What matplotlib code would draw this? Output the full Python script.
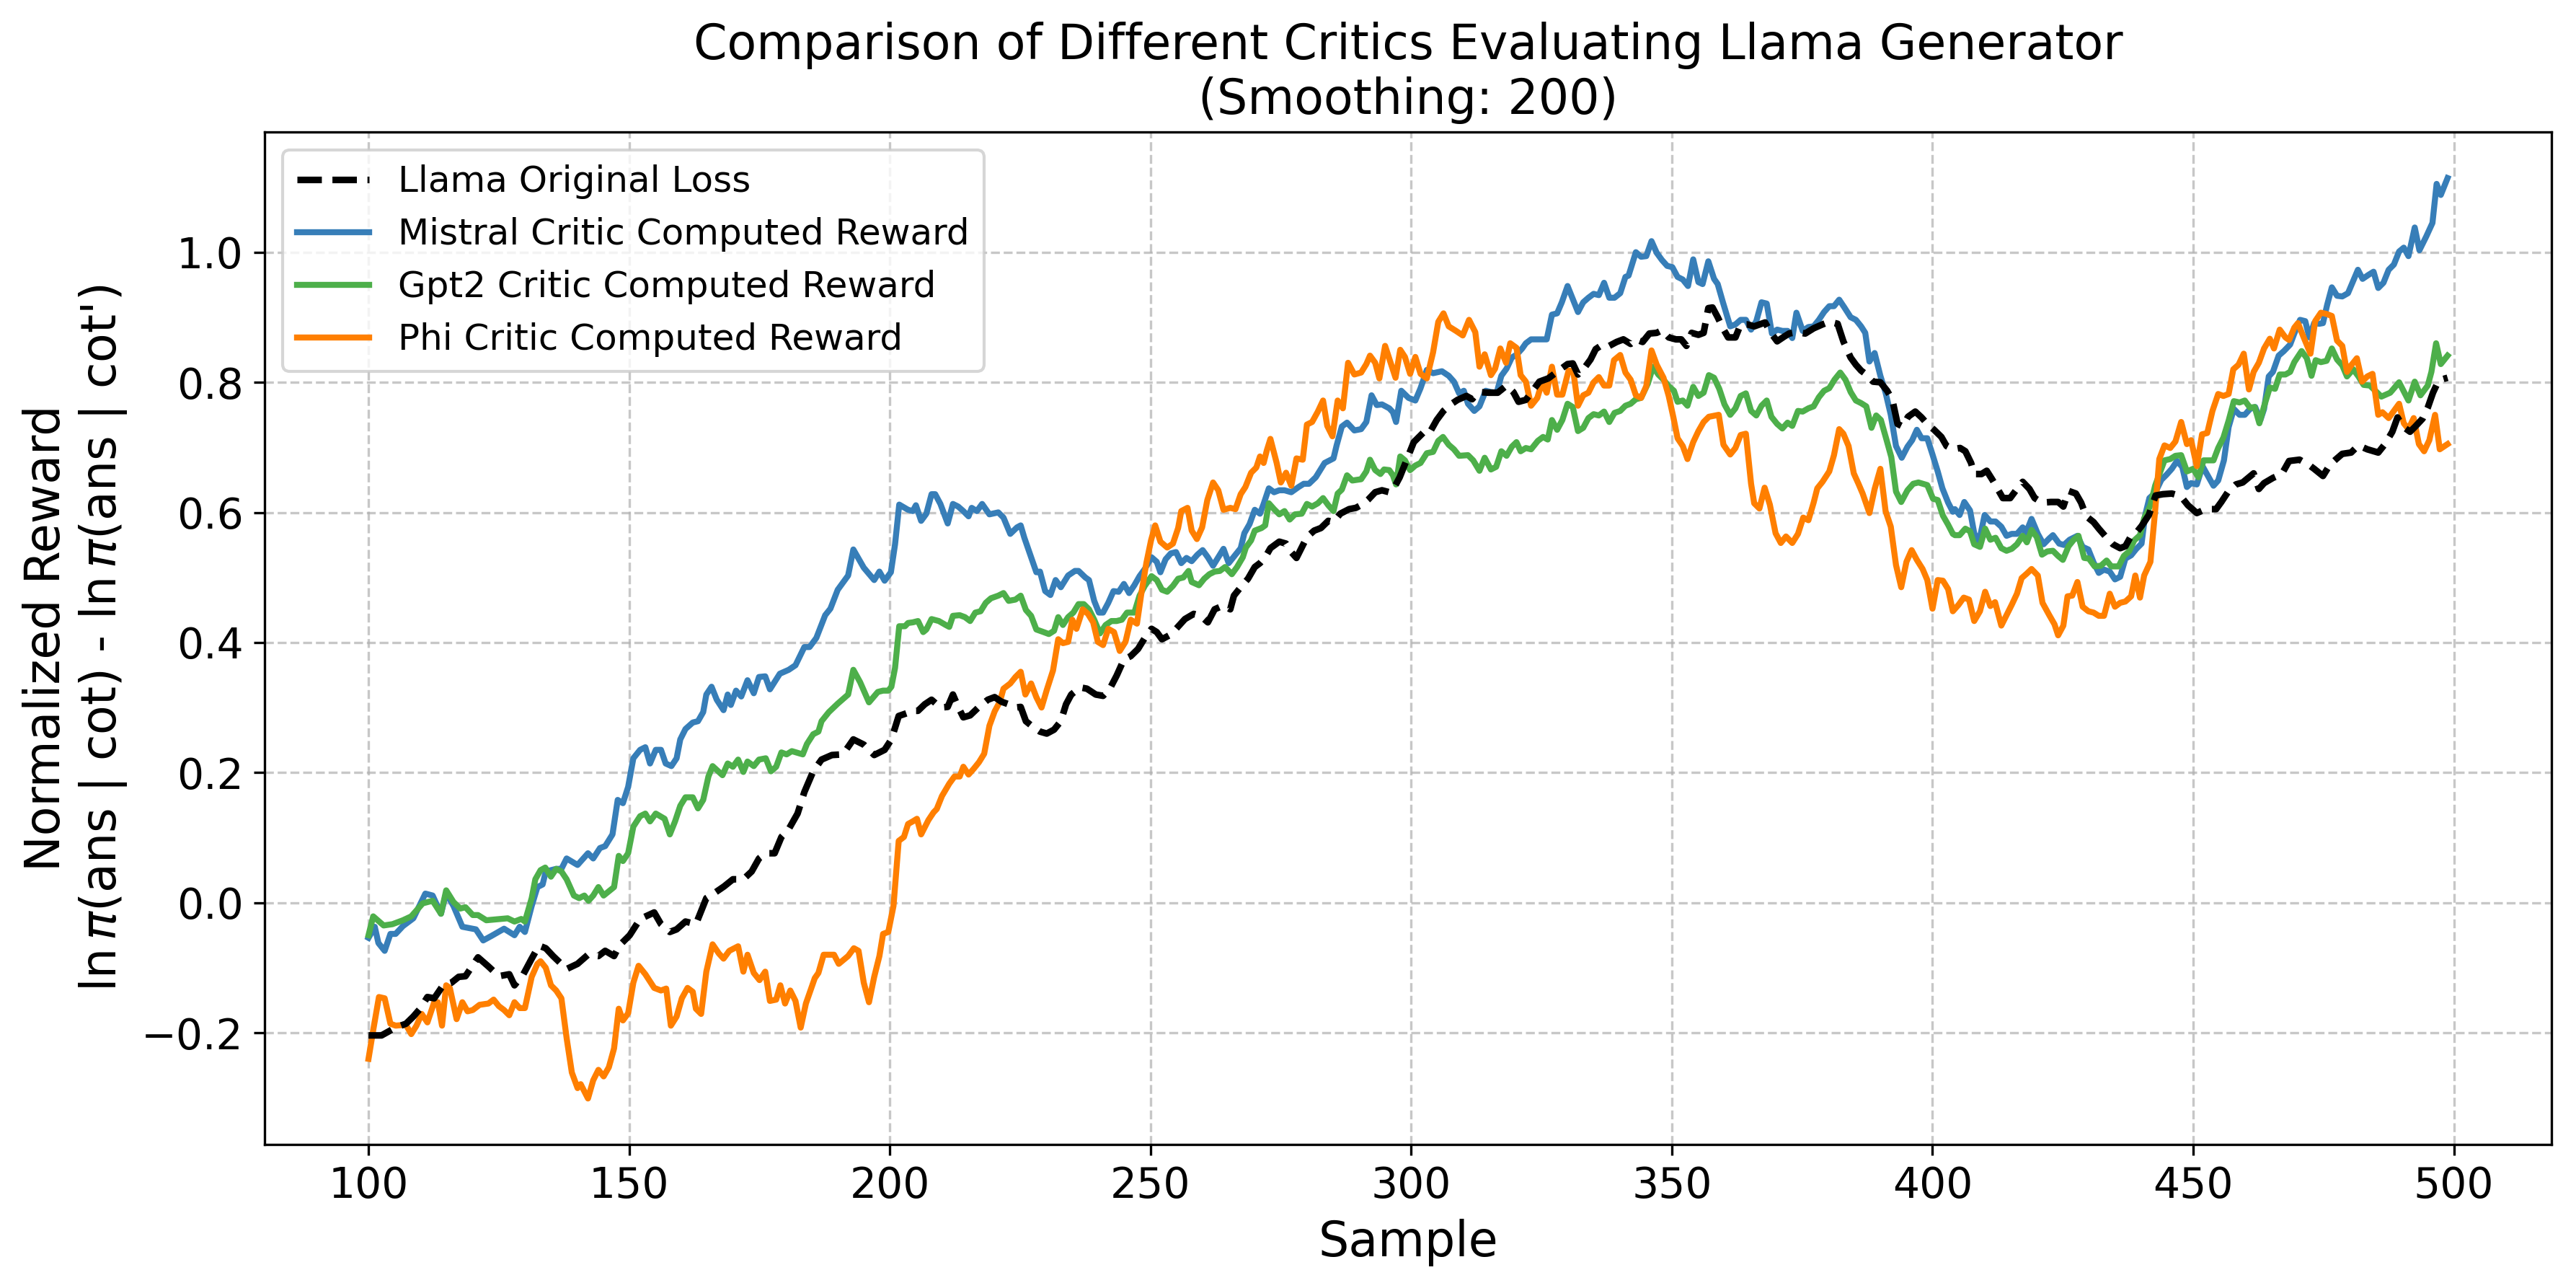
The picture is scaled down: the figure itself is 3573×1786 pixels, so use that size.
import numpy as np
import matplotlib.pyplot as plt

# valores (muestra, recompensa normalizada)
llama_x = [100.0, 102.5, 105.2, 107.2, 108.6, 109.9, 111.3, 112.6, 114.3, 115.9, 117.3, 118.6, 121.0, 123.0, 125.0,
           127.0, 128.0, 129.7, 131.3, 132.7, 134.0, 135.4, 138.0, 140.1, 142.1, 144.1, 145.4, 147.1, 148.1, 150.1,
           152.1, 154.8, 156.1, 157.8, 159.1, 160.8, 162.8, 164.8, 166.2, 168.2, 169.9, 171.9, 173.5, 174.9, 176.2,
           177.9, 179.2, 180.6, 182.3, 183.6, 185.3, 186.9, 188.9, 191.0, 193.0, 195.0, 197.0, 199.0, 200.3, 201.7,
           203.5, 204.0, 205.4, 206.7, 208.0, 209.7, 211.1, 212.1, 213.1, 214.1, 215.4, 217.1, 218.8, 220.1, 221.4,
           222.8, 224.1, 225.1, 226.1, 227.5, 228.8, 230.1, 231.5, 232.8, 233.8, 234.8, 236.5, 237.8, 239.5, 240.9,
           242.2, 243.5, 244.9, 246.2, 247.6, 248.9, 250.2, 251.2, 252.2, 253.6, 254.9, 256.6, 258.3, 259.6, 261.0,
           262.3, 264.0, 265.3, 266.0, 267.3, 268.7, 270.0, 271.0, 272.0, 273.0, 274.7, 276.0, 277.0, 278.0, 279.0,
           280.0, 281.4, 282.7, 284.1, 285.1, 286.4, 288.1, 289.4, 290.8, 291.8, 293.1, 294.4, 295.8, 296.8, 297.8,
           299.1, 300.5, 302.5, 303.5, 304.9, 306.2, 307.6, 308.9, 310.6, 311.7, 312.9, 314.9, 316.6, 318.3, 319.6,
           320.6, 322.0, 323.3, 324.6, 326.3, 328.3, 330.0, 331.0, 332.0, 333.4, 334.4, 335.4, 336.7, 338.0, 339.4,
           340.7, 342.1, 343.1, 344.4, 345.7, 347.1, 348.1, 349.4, 350.8, 351.8, 352.8, 353.8, 355.1, 356.1, 357.0,
           357.8, 358.8, 359.8, 360.8, 362.2, 363.2, 364.5, 365.8, 367.9, 368.9, 370.2, 371.5, 372.5, 373.9, 375.6,
           377.2, 378.9, 380.2, 381.8, 382.9, 384.3, 385.3, 386.3, 387.3, 388.6, 390.0, 391.3, 392.3, 393.3, 394.3,
           395.3, 396.7, 397.9, 399.0, 400.3, 401.7, 402.7, 403.9, 405.3, 406.3, 407.4, 408.0, 409.4, 410.4, 411.5,
           412.5, 413.5, 414.9, 416.2, 417.3, 418.6, 419.6, 421.0, 422.7, 424.1, 425.1, 426.1, 427.5, 428.5, 429.5,
           430.9, 431.9, 433.3, 434.6, 436.0, 437.0, 438.1, 439.1, 440.1, 441.5, 442.8, 444.2, 445.9, 447.6, 449.0,
           450.7, 452.4, 454.4, 455.4, 456.8, 458.2, 459.5, 461.6, 462.6, 463.6, 465.3, 467.0, 468.4, 470.4, 472.2,
           473.2, 474.9, 476.2, 477.3, 478.6, 480.3, 481.7, 483.4, 485.5, 486.8, 488.2, 489.2, 490.2, 491.6, 492.6,
           494.0, 495.0, 496.0, 497.1, 498.8]
llama_y = [-0.204, -0.204, -0.192, -0.186, -0.175, -0.163, -0.145, -0.147, -0.127, -0.123, -0.114, -0.113, -0.084,
           -0.098, -0.113, -0.110, -0.127, -0.110, -0.086, -0.066, -0.070, -0.082, -0.102, -0.094, -0.080, -0.082,
           -0.074, -0.082, -0.066, -0.050, -0.025, -0.015, -0.033, -0.045, -0.041, -0.029, -0.033, 0.007, 0.014,
           0.025, 0.036, 0.036, 0.048, 0.068, 0.076, 0.076, 0.101, 0.113, 0.137, 0.170, 0.202, 0.220, 0.227, 0.228,
           0.251, 0.243, 0.227, 0.235, 0.251, 0.287, 0.292, 0.295, 0.295, 0.305, 0.312, 0.300, 0.301, 0.320, 0.301,
           0.285, 0.288, 0.301, 0.312, 0.316, 0.309, 0.305, 0.300, 0.301, 0.279, 0.270, 0.263, 0.260, 0.266, 0.279,
           0.305, 0.320, 0.331, 0.329, 0.320, 0.318, 0.329, 0.349, 0.374, 0.379, 0.390, 0.407, 0.421, 0.416, 0.405,
           0.411, 0.421, 0.436, 0.444, 0.441, 0.431, 0.451, 0.457, 0.451, 0.472, 0.485, 0.498, 0.516, 0.522, 0.531,
           0.545, 0.555, 0.552, 0.539, 0.530, 0.546, 0.562, 0.572, 0.576, 0.587, 0.585, 0.598, 0.605, 0.607, 0.613,
           0.620, 0.631, 0.634, 0.631, 0.639, 0.654, 0.680, 0.708, 0.724, 0.722, 0.742, 0.756, 0.766, 0.773, 0.779,
           0.774, 0.785, 0.784, 0.784, 0.795, 0.785, 0.770, 0.773, 0.787, 0.801, 0.806, 0.818, 0.828, 0.829, 0.812,
           0.824, 0.835, 0.851, 0.858, 0.856, 0.862, 0.866, 0.859, 0.866, 0.862, 0.875, 0.876, 0.880, 0.869, 0.866,
           0.866, 0.856, 0.876, 0.873, 0.876, 0.914, 0.915, 0.900, 0.883, 0.869, 0.869, 0.889, 0.889, 0.886, 0.892,
           0.877, 0.863, 0.870, 0.875, 0.877, 0.875, 0.883, 0.889, 0.893, 0.890, 0.863, 0.838, 0.827, 0.818, 0.812,
           0.801, 0.800, 0.787, 0.773, 0.736, 0.732, 0.747, 0.755, 0.746, 0.736, 0.727, 0.716, 0.702, 0.697, 0.699,
           0.694, 0.676, 0.659, 0.659, 0.664, 0.650, 0.636, 0.622, 0.622, 0.636, 0.647, 0.636, 0.622, 0.615, 0.616,
           0.616, 0.609, 0.633, 0.629, 0.615, 0.594, 0.585, 0.575, 0.562, 0.551, 0.545, 0.548, 0.564, 0.569, 0.579,
           0.596, 0.626, 0.628, 0.629, 0.625, 0.611, 0.599, 0.605, 0.605, 0.616, 0.633, 0.643, 0.646, 0.660, 0.636,
           0.645, 0.653, 0.659, 0.679, 0.681, 0.673, 0.667, 0.656, 0.673, 0.681, 0.690, 0.692, 0.703, 0.697, 0.692,
           0.705, 0.724, 0.746, 0.732, 0.724, 0.732, 0.744, 0.761, 0.784, 0.803, 0.807]

mistral_x = [100.0, 101.2, 101.9, 103.1, 104.2, 105.2, 106.6, 108.6, 110.9, 112.3, 113.9, 114.9, 116.3, 118.0, 120.6,
             122.0, 123.6, 126.0, 128.0, 129.0, 130.0, 131.3, 132.4, 133.4, 134.0, 135.0, 136.0, 137.0, 138.0, 140.1,
             142.1, 143.1, 144.4, 145.4, 146.8, 147.8, 148.8, 149.8, 150.8, 152.1, 153.1, 154.0, 155.1, 156.1, 157.0,
             158.1, 159.1, 159.8, 160.8, 162.2, 163.2, 164.2, 164.8, 165.8, 166.8, 168.1, 168.9, 169.5, 170.5, 171.5,
             172.7, 173.9, 174.9, 176.1, 177.0, 178.9, 180.6, 181.9, 183.6, 184.6, 185.9, 187.6, 188.6, 190.0, 192.0,
             193.0, 195.0, 197.0, 198.0, 199.0, 200.2, 201.0, 201.8, 203.5, 204.4, 205.0, 206.0, 207.0, 208.0, 208.7,
             209.7, 211.1, 212.1, 213.1, 214.1, 215.1, 215.7, 216.7, 217.7, 219.1, 220.8, 221.8, 223.1, 224.4, 225.1,
             225.8, 227.1, 228.1, 228.8, 229.8, 230.8, 231.8, 232.8, 234.2, 235.5, 236.2, 237.5, 238.2, 239.2, 240.1,
             240.9, 241.9, 242.9, 243.9, 244.9, 245.9, 246.9, 247.9, 248.9, 250.2, 251.2, 251.9, 252.9, 253.9, 254.9,
             255.9, 256.9, 257.9, 259.0, 260.0, 261.0, 262.0, 263.0, 264.0, 265.0, 266.3, 267.3, 268.0, 269.0, 270.0,
             271.0, 271.7, 272.7, 273.7, 274.7, 275.7, 277.0, 278.4, 279.4, 280.4, 281.7, 283.4, 285.1, 285.7, 286.7,
             287.7, 289.1, 290.4, 291.4, 292.4, 293.4, 294.4, 295.8, 296.5, 297.1, 298.1, 299.5, 300.8, 301.8, 303.0,
             304.2, 305.9, 307.2, 308.2, 309.2, 310.1, 310.9, 312.1, 313.1, 314.3, 315.3, 316.4, 317.3, 318.3, 319.3,
             320.3, 321.3, 322.0, 323.0, 324.3, 326.0, 327.0, 328.0, 328.9, 330.0, 331.0, 332.0, 333.0, 334.0, 335.0,
             336.0, 337.0, 338.0, 339.0, 340.1, 341.1, 341.7, 343.1, 344.1, 345.1, 346.1, 347.1, 348.1, 349.1, 350.1,
             351.1, 352.1, 353.1, 354.1, 355.1, 355.9, 357.0, 358.1, 358.8, 359.8, 361.2, 362.2, 363.2, 364.2, 365.2,
             366.2, 367.2, 368.2, 369.2, 370.2, 371.2, 372.2, 373.1, 373.9, 375.1, 376.2, 377.2, 378.2, 379.2, 380.2,
             381.1, 382.1, 383.1, 384.3, 385.3, 386.3, 387.1, 387.9, 388.9, 390.0, 391.0, 392.0, 393.0, 394.1, 395.2,
             396.1, 397.0, 397.9, 399.0, 400.0, 401.0, 401.9, 403.0, 403.9, 404.3, 405.2, 406.1, 407.2, 408.0, 408.9,
             410.0, 411.1, 412.1, 413.2, 414.2, 415.2, 416.2, 417.3, 417.9, 419.0, 420.2, 421.3, 422.4, 423.1, 424.3,
             425.2, 426.3, 427.8, 428.8, 429.9, 430.9, 431.9, 432.9, 434.0, 435.0, 436.0, 437.0, 438.1, 439.1, 440.1,
             440.8, 441.6, 442.7, 443.9, 444.9, 445.9, 446.9, 447.9, 448.8, 449.6, 450.7, 451.8, 452.7, 453.9, 454.8,
             455.9, 456.8, 457.8, 458.9, 459.9, 460.9, 461.9, 462.9, 463.6, 464.5, 465.3, 466.4, 467.4, 468.6, 469.4,
             470.5, 471.5, 472.3, 473.2, 474.2, 474.9, 475.7, 476.6, 477.6, 478.6, 479.7, 480.7, 481.6, 482.5, 483.6,
             484.6, 485.5, 486.5, 487.5, 488.5, 489.5, 490.4, 491.3, 492.5, 493.4, 494.7, 495.9, 496.7, 497.5, 498.8]
mistral_y = [-0.054, -0.037, -0.062, -0.074, -0.048, -0.048, -0.036, -0.024, 0.014, 0.011, -0.017, 0.015, -0.005,
             -0.037, -0.041, -0.058, -0.051, -0.040, -0.050, -0.037, -0.045, -0.005, 0.024, 0.028, 0.048, 0.050,
             0.052, 0.052, 0.068, 0.058, 0.076, 0.068, 0.084, 0.087, 0.105, 0.158, 0.153, 0.178, 0.222, 0.235, 0.239,
             0.214, 0.235, 0.235, 0.214, 0.210, 0.222, 0.251, 0.267, 0.277, 0.279, 0.293, 0.320, 0.332, 0.312, 0.296,
             0.320, 0.304, 0.326, 0.317, 0.342, 0.322, 0.347, 0.348, 0.328, 0.352, 0.358, 0.365, 0.393, 0.393, 0.407,
             0.442, 0.452, 0.481, 0.503, 0.543, 0.515, 0.496, 0.509, 0.495, 0.508, 0.551, 0.612, 0.604, 0.602, 0.611,
             0.587, 0.598, 0.628, 0.628, 0.613, 0.583, 0.613, 0.609, 0.602, 0.594, 0.607, 0.602, 0.613, 0.597, 0.600,
             0.592, 0.567, 0.577, 0.580, 0.561, 0.531, 0.508, 0.509, 0.479, 0.473, 0.496, 0.485, 0.503, 0.510, 0.510,
             0.500, 0.496, 0.464, 0.446, 0.446, 0.461, 0.479, 0.478, 0.490, 0.476, 0.488, 0.502, 0.513, 0.531, 0.524,
             0.508, 0.528, 0.537, 0.539, 0.522, 0.530, 0.525, 0.535, 0.542, 0.531, 0.518, 0.531, 0.544, 0.522, 0.535,
             0.545, 0.568, 0.582, 0.604, 0.598, 0.613, 0.637, 0.631, 0.634, 0.634, 0.631, 0.639, 0.644, 0.644, 0.654,
             0.676, 0.683, 0.703, 0.732, 0.738, 0.726, 0.728, 0.739, 0.780, 0.765, 0.766, 0.760, 0.754, 0.739, 0.787,
             0.776, 0.772, 0.791, 0.819, 0.814, 0.817, 0.810, 0.801, 0.783, 0.787, 0.767, 0.756, 0.763, 0.787, 0.785,
             0.784, 0.810, 0.821, 0.838, 0.843, 0.852, 0.860, 0.866, 0.866, 0.866, 0.904, 0.906, 0.923, 0.948, 0.928,
             0.908, 0.923, 0.930, 0.936, 0.934, 0.953, 0.930, 0.930, 0.937, 0.962, 0.964, 1.000, 0.993, 0.994, 1.017,
             0.999, 0.988, 0.979, 0.977, 0.962, 0.958, 0.948, 0.989, 0.954, 0.951, 0.986, 0.959, 0.951, 0.923, 0.886,
             0.889, 0.896, 0.896, 0.881, 0.894, 0.923, 0.921, 0.875, 0.881, 0.879, 0.879, 0.868, 0.907, 0.879, 0.885,
             0.886, 0.896, 0.908, 0.917, 0.917, 0.927, 0.915, 0.900, 0.896, 0.886, 0.876, 0.832, 0.845, 0.810, 0.784,
             0.750, 0.702, 0.684, 0.701, 0.711, 0.727, 0.714, 0.714, 0.689, 0.663, 0.637, 0.615, 0.601, 0.605, 0.596,
             0.616, 0.603, 0.568, 0.554, 0.596, 0.586, 0.586, 0.578, 0.564, 0.567, 0.567, 0.577, 0.568, 0.590, 0.567,
             0.551, 0.560, 0.565, 0.552, 0.550, 0.558, 0.564, 0.547, 0.543, 0.523, 0.507, 0.512, 0.509, 0.497, 0.501,
             0.529, 0.534, 0.544, 0.552, 0.596, 0.622, 0.630, 0.650, 0.658, 0.667, 0.679, 0.670, 0.639, 0.645, 0.643,
             0.671, 0.658, 0.641, 0.649, 0.680, 0.731, 0.759, 0.750, 0.750, 0.759, 0.762, 0.742, 0.759, 0.809, 0.816,
             0.841, 0.848, 0.858, 0.875, 0.896, 0.894, 0.869, 0.891, 0.890, 0.891, 0.919, 0.946, 0.933, 0.932, 0.937,
             0.956, 0.973, 0.959, 0.965, 0.970, 0.945, 0.953, 0.973, 0.981, 1.001, 1.007, 0.994, 1.038, 1.003, 1.024,
             1.045, 1.105, 1.088, 1.114]

gpt2_x = [100.0, 100.9, 102.9, 104.6, 106.6, 108.2, 110.4, 112.3, 113.9, 114.9, 116.3, 117.6, 118.6, 120.0, 121.0,
          122.6, 125.3, 126.7, 128.0, 129.3, 130.0, 131.3, 132.0, 133.0, 133.9, 135.0, 136.0, 137.0, 138.0, 139.4,
          140.4, 141.4, 142.2, 143.1, 144.1, 145.1, 147.1, 148.0, 148.8, 149.8, 150.8, 152.1, 153.1, 154.0, 155.1,
          156.8, 157.8, 158.8, 159.8, 160.8, 162.2, 163.2, 164.2, 165.2, 166.0, 167.9, 168.9, 169.9, 170.9, 171.9,
          172.7, 173.9, 174.9, 176.2, 177.2, 178.2, 179.2, 180.2, 181.2, 183.3, 184.1, 185.3, 186.3, 186.9, 188.3,
          190.0, 192.0, 193.0, 194.3, 196.0, 197.7, 198.7, 199.7, 200.3, 201.0, 201.8, 202.9, 203.5, 204.4, 205.4,
          206.4, 207.0, 208.0, 209.4, 210.7, 211.4, 212.1, 213.4, 214.4, 215.4, 216.4, 217.4, 218.4, 219.4, 220.8,
          221.8, 222.8, 224.1, 225.1, 226.1, 227.1, 228.1, 229.5, 230.5, 231.5, 232.3, 233.2, 234.2, 235.2, 236.2,
          237.2, 238.2, 239.2, 240.3, 241.4, 242.5, 243.5, 244.5, 245.5, 246.9, 247.9, 248.9, 250.2, 251.2, 252.2,
          253.2, 254.3, 255.3, 256.3, 257.3, 257.9, 259.3, 260.3, 261.3, 262.3, 263.3, 264.3, 265.6, 266.6, 267.7,
          268.3, 269.3, 270.0, 271.3, 272.0, 272.7, 273.7, 274.7, 275.7, 276.7, 277.7, 279.0, 280.0, 281.0, 282.1,
          283.1, 284.1, 285.1, 285.9, 286.7, 287.7, 288.7, 290.4, 291.4, 292.1, 293.1, 294.1, 294.8, 295.8, 296.5,
          297.1, 297.9, 298.8, 299.8, 300.8, 301.8, 303.0, 304.2, 305.2, 306.1, 307.2, 308.2, 309.2, 310.9, 311.9,
          313.1, 314.1, 315.3, 316.3, 317.3, 318.3, 319.3, 320.2, 321.0, 322.0, 323.0, 324.3, 325.3, 326.2, 327.0,
          328.0, 329.0, 330.0, 331.0, 332.0, 333.0, 334.0, 335.0, 336.0, 337.0, 338.0, 339.0, 340.1, 341.1, 342.1,
          343.1, 344.1, 345.4, 346.4, 347.4, 348.4, 349.4, 350.4, 351.1, 352.1, 353.0, 354.1, 355.1, 356.1, 357.1,
          358.1, 359.1, 360.1, 361.2, 362.2, 363.2, 364.2, 365.2, 366.2, 367.2, 368.2, 369.1, 370.2, 371.2, 372.2,
          373.1, 374.2, 375.1, 376.2, 377.2, 378.2, 379.2, 380.2, 381.2, 382.3, 383.3, 384.3, 385.3, 386.3, 387.3,
          388.3, 389.2, 390.1, 391.2, 392.1, 393.0, 394.0, 395.2, 396.3, 397.3, 399.0, 400.1, 401.0, 402.0, 403.0,
          403.9, 404.3, 405.2, 406.3, 407.2, 408.0, 409.1, 410.1, 411.1, 412.1, 413.2, 414.2, 415.2, 416.2, 417.3,
          418.1, 419.0, 420.0, 421.0, 422.0, 423.1, 424.1, 425.0, 426.1, 427.1, 428.0, 429.1, 430.0, 431.1, 432.3,
          433.4, 434.3, 435.7, 436.7, 437.7, 438.7, 439.8, 440.6, 441.8, 442.7, 443.9, 444.5, 445.6, 446.6, 447.7,
          448.8, 450.0, 451.0, 452.0, 453.9, 454.8, 455.8, 456.8, 457.8, 458.9, 459.9, 460.9, 461.8, 462.7, 463.6,
          464.7, 465.7, 466.6, 467.7, 468.6, 469.4, 470.8, 471.8, 472.7, 473.5, 474.5, 475.6, 476.6, 477.6, 478.6,
          479.5, 480.7, 481.7, 482.7, 483.9, 486.1, 487.8, 489.5, 491.3, 492.5, 493.6, 495.0, 495.7, 496.6, 497.5,
          498.8]
gpt2_y = [-0.050, -0.021, -0.035, -0.033, -0.027, -0.021, -0.001, 0.003, -0.017, 0.019, 0.001, -0.009, -0.007,
          -0.019, -0.019, -0.027, -0.025, -0.024, -0.029, -0.025, -0.029, 0.007, 0.036, 0.050, 0.054, 0.040, 0.052,
          0.048, 0.036, 0.011, 0.007, 0.011, 0.003, 0.011, 0.024, 0.011, 0.024, 0.072, 0.064, 0.076, 0.117, 0.133,
          0.137, 0.125, 0.137, 0.129, 0.105, 0.125, 0.149, 0.162, 0.162, 0.145, 0.158, 0.194, 0.210, 0.196, 0.214,
          0.209, 0.220, 0.201, 0.217, 0.210, 0.220, 0.222, 0.202, 0.209, 0.231, 0.228, 0.233, 0.228, 0.244, 0.259,
          0.263, 0.279, 0.293, 0.306, 0.320, 0.358, 0.339, 0.308, 0.324, 0.326, 0.326, 0.332, 0.361, 0.425, 0.425,
          0.430, 0.431, 0.433, 0.416, 0.420, 0.436, 0.433, 0.427, 0.424, 0.441, 0.442, 0.439, 0.433, 0.446, 0.448,
          0.461, 0.468, 0.472, 0.476, 0.464, 0.466, 0.472, 0.450, 0.441, 0.420, 0.416, 0.413, 0.418, 0.439, 0.427,
          0.439, 0.446, 0.459, 0.459, 0.451, 0.435, 0.414, 0.427, 0.433, 0.433, 0.435, 0.446, 0.446, 0.472, 0.487,
          0.502, 0.496, 0.481, 0.478, 0.487, 0.498, 0.500, 0.510, 0.493, 0.488, 0.498, 0.505, 0.509, 0.510, 0.516,
          0.505, 0.516, 0.531, 0.546, 0.557, 0.572, 0.576, 0.580, 0.614, 0.605, 0.597, 0.602, 0.589, 0.597, 0.598,
          0.613, 0.609, 0.614, 0.622, 0.611, 0.602, 0.629, 0.635, 0.657, 0.649, 0.651, 0.663, 0.681, 0.665, 0.659,
          0.666, 0.665, 0.657, 0.643, 0.686, 0.680, 0.665, 0.672, 0.676, 0.691, 0.693, 0.710, 0.716, 0.704, 0.697,
          0.687, 0.688, 0.680, 0.664, 0.684, 0.666, 0.670, 0.694, 0.687, 0.701, 0.708, 0.694, 0.699, 0.697, 0.710,
          0.716, 0.712, 0.742, 0.727, 0.742, 0.767, 0.762, 0.725, 0.730, 0.745, 0.751, 0.749, 0.755, 0.739, 0.753,
          0.756, 0.764, 0.767, 0.774, 0.776, 0.798, 0.824, 0.812, 0.804, 0.794, 0.787, 0.770, 0.772, 0.764, 0.793,
          0.779, 0.784, 0.811, 0.807, 0.790, 0.766, 0.750, 0.760, 0.779, 0.783, 0.756, 0.749, 0.764, 0.772, 0.747,
          0.736, 0.729, 0.738, 0.733, 0.756, 0.755, 0.760, 0.763, 0.777, 0.787, 0.791, 0.804, 0.815, 0.804, 0.785,
          0.772, 0.768, 0.763, 0.730, 0.749, 0.742, 0.711, 0.685, 0.632, 0.616, 0.634, 0.644, 0.646, 0.642, 0.621,
          0.619, 0.595, 0.581, 0.567, 0.565, 0.565, 0.575, 0.571, 0.551, 0.547, 0.575, 0.558, 0.561, 0.545, 0.541,
          0.544, 0.551, 0.564, 0.554, 0.573, 0.562, 0.535, 0.540, 0.541, 0.533, 0.527, 0.548, 0.558, 0.564, 0.530,
          0.529, 0.517, 0.518, 0.526, 0.517, 0.517, 0.533, 0.540, 0.557, 0.565, 0.591, 0.611, 0.641, 0.667, 0.680,
          0.682, 0.687, 0.688, 0.663, 0.667, 0.654, 0.680, 0.680, 0.699, 0.715, 0.741, 0.771, 0.769, 0.772, 0.761,
          0.762, 0.737, 0.763, 0.792, 0.790, 0.812, 0.812, 0.816, 0.831, 0.848, 0.837, 0.810, 0.834, 0.831, 0.833,
          0.852, 0.835, 0.826, 0.809, 0.820, 0.809, 0.796, 0.795, 0.778, 0.784, 0.800, 0.772, 0.801, 0.780, 0.795,
          0.816, 0.860, 0.828, 0.841]

phi_x = [100.0, 100.9, 102.0, 103.1, 104.2, 105.2, 106.6, 107.2, 108.2, 109.2, 110.2, 111.3, 112.6, 113.3, 114.1,
         114.9, 115.6, 116.9, 118.0, 119.0, 120.0, 121.3, 123.0, 124.0, 125.0, 126.0, 127.0, 128.0, 129.0, 130.0,
         131.3, 132.4, 133.0, 134.0, 135.0, 136.0, 137.0, 138.0, 139.0, 140.1, 140.7, 142.1, 143.1, 144.1, 145.1,
         146.1, 147.1, 148.0, 148.8, 149.8, 150.8, 151.8, 153.1, 154.8, 156.1, 157.1, 158.0, 159.1, 160.1, 161.2,
         162.2, 162.8, 163.8, 164.8, 166.0, 167.2, 168.1, 169.2, 170.9, 171.9, 172.7, 173.9, 175.0, 176.1, 177.0,
         178.2, 179.0, 179.9, 180.9, 181.9, 182.9, 183.9, 185.6, 186.3, 187.3, 188.3, 189.3, 190.2, 192.0, 193.1,
         194.0, 195.0, 196.0, 197.0, 198.0, 198.7, 199.7, 200.7, 201.7, 202.7, 203.5, 204.4, 205.2, 206.0, 207.4,
         208.4, 209.0, 210.0, 211.4, 212.4, 213.4, 214.1, 215.1, 216.1, 217.1, 218.1, 219.1, 220.1, 221.1, 221.8,
         223.1, 224.1, 225.1, 226.0, 227.1, 228.1, 229.1, 230.1, 231.3, 232.3, 233.2, 234.2, 235.0, 235.8, 237.0,
         238.0, 239.0, 239.9, 240.9, 241.9, 243.0, 244.1, 245.2, 246.2, 247.4, 248.2, 249.2, 250.1, 250.9, 251.9,
         253.2, 254.3, 255.3, 255.9, 257.1, 257.9, 258.9, 259.9, 260.9, 262.0, 263.0, 264.0, 265.3, 266.3, 267.3,
         268.2, 269.3, 270.3, 271.0, 271.7, 272.3, 273.0, 274.2, 275.0, 276.0, 277.0, 278.0, 279.2, 280.0, 281.0,
         282.1, 283.1, 283.9, 284.9, 285.9, 286.9, 287.9, 289.1, 290.4, 291.4, 292.1, 293.1, 293.9, 295.0, 295.9,
         297.0, 297.9, 298.8, 299.8, 300.8, 301.8, 303.0, 304.2, 305.2, 306.2, 307.2, 308.6, 309.9, 311.1, 312.3,
         313.1, 314.1, 315.3, 316.1, 317.1, 318.2, 319.0, 320.2, 321.0, 322.0, 323.0, 324.2, 325.1, 326.0, 327.0,
         328.0, 329.0, 330.2, 331.1, 332.0, 333.0, 334.0, 335.0, 336.0, 337.0, 338.0, 338.9, 340.1, 341.1, 342.1,
         343.1, 344.1, 345.1, 346.1, 347.1, 348.4, 349.4, 350.3, 351.1, 352.1, 353.0, 354.1, 355.1, 356.1, 357.1,
         359.0, 359.9, 361.2, 362.2, 363.2, 364.2, 365.2, 365.8, 366.8, 367.8, 368.8, 369.9, 370.9, 371.9, 373.1,
         374.2, 375.2, 376.2, 377.2, 377.9, 378.9, 380.2, 381.1, 382.1, 382.9, 383.9, 384.9, 385.8, 386.6, 387.9,
         388.9, 390.0, 391.0, 392.0, 393.0, 394.0, 395.0, 396.0, 397.0, 398.1, 399.0, 400.0, 401.0, 402.0, 403.0,
         403.9, 405.0, 406.0, 407.0, 408.0, 409.1, 410.1, 411.1, 412.0, 413.2, 414.2, 415.2, 416.2, 417.1, 418.1,
         419.0, 420.2, 421.1, 422.4, 423.4, 424.1, 425.1, 425.9, 426.8, 427.8, 428.8, 429.9, 430.9, 431.9, 432.9,
         434.0, 435.0, 436.0, 437.0, 438.1, 438.9, 439.8, 440.6, 441.8, 442.7, 443.5, 444.5, 445.6, 446.6, 447.7,
         448.8, 449.6, 450.7, 451.7, 452.7, 453.7, 454.8, 455.8, 456.8, 457.7, 458.7, 459.7, 460.7, 461.6, 462.6,
         463.6, 464.7, 465.5, 466.6, 467.7, 468.4, 469.4, 470.1, 471.1, 472.5, 473.4, 474.5, 475.6, 476.6, 477.6,
         478.6, 479.5, 480.3, 481.4, 482.4, 483.4, 484.4, 485.5, 486.3, 487.5, 488.5, 489.5, 490.4, 491.3, 492.3,
         493.3, 494.3, 495.3, 496.4, 497.3, 498.8]
phi_y = [-0.240, -0.196, -0.145, -0.147, -0.186, -0.189, -0.188, -0.188, -0.202, -0.189, -0.171, -0.184, -0.153,
         -0.153, -0.189, -0.127, -0.131, -0.179, -0.153, -0.167, -0.165, -0.157, -0.155, -0.149, -0.159, -0.165,
         -0.173, -0.153, -0.162, -0.162, -0.114, -0.094, -0.090, -0.100, -0.127, -0.135, -0.147, -0.208, -0.261,
         -0.285, -0.279, -0.301, -0.273, -0.257, -0.267, -0.253, -0.224, -0.163, -0.181, -0.170, -0.123, -0.097,
         -0.110, -0.131, -0.135, -0.132, -0.189, -0.175, -0.147, -0.131, -0.137, -0.163, -0.171, -0.106, -0.064,
         -0.078, -0.086, -0.074, -0.067, -0.106, -0.080, -0.108, -0.119, -0.106, -0.151, -0.149, -0.127, -0.155,
         -0.135, -0.151, -0.192, -0.155, -0.116, -0.108, -0.080, -0.080, -0.080, -0.094, -0.082, -0.070, -0.074,
         -0.123, -0.153, -0.114, -0.082, -0.048, -0.045, -0.005, 0.095, 0.101, 0.121, 0.125, 0.129, 0.105, 0.127,
         0.139, 0.144, 0.164, 0.183, 0.194, 0.194, 0.209, 0.197, 0.206, 0.216, 0.229, 0.272, 0.294, 0.309, 0.329,
         0.337, 0.347, 0.355, 0.320, 0.337, 0.316, 0.300, 0.327, 0.357, 0.405, 0.399, 0.401, 0.435, 0.421, 0.451,
         0.444, 0.431, 0.401, 0.396, 0.421, 0.416, 0.387, 0.401, 0.435, 0.429, 0.473, 0.522, 0.557, 0.580, 0.555,
         0.546, 0.552, 0.576, 0.602, 0.607, 0.572, 0.559, 0.577, 0.619, 0.646, 0.634, 0.604, 0.607, 0.605, 0.628,
         0.639, 0.661, 0.669, 0.686, 0.676, 0.695, 0.713, 0.676, 0.646, 0.661, 0.641, 0.683, 0.681, 0.735, 0.739,
         0.755, 0.772, 0.733, 0.717, 0.772, 0.760, 0.830, 0.812, 0.815, 0.828, 0.841, 0.830, 0.806, 0.856, 0.834,
         0.807, 0.850, 0.839, 0.813, 0.839, 0.813, 0.806, 0.846, 0.893, 0.906, 0.886, 0.879, 0.872, 0.896, 0.877,
         0.824, 0.843, 0.811, 0.821, 0.852, 0.830, 0.860, 0.853, 0.811, 0.801, 0.764, 0.776, 0.800, 0.784, 0.824,
         0.781, 0.781, 0.818, 0.817, 0.764, 0.780, 0.784, 0.800, 0.808, 0.795, 0.795, 0.834, 0.842, 0.815, 0.804,
         0.780, 0.776, 0.794, 0.849, 0.827, 0.807, 0.779, 0.746, 0.714, 0.702, 0.682, 0.708, 0.725, 0.739, 0.747,
         0.750, 0.704, 0.689, 0.699, 0.719, 0.721, 0.644, 0.614, 0.606, 0.638, 0.612, 0.568, 0.553, 0.563, 0.553,
         0.567, 0.592, 0.588, 0.615, 0.637, 0.647, 0.663, 0.688, 0.728, 0.721, 0.702, 0.660, 0.644, 0.629, 0.599,
         0.636, 0.667, 0.602, 0.578, 0.519, 0.485, 0.524, 0.542, 0.527, 0.513, 0.496, 0.452, 0.496, 0.495, 0.482,
         0.448, 0.458, 0.469, 0.466, 0.433, 0.448, 0.478, 0.456, 0.462, 0.426, 0.442, 0.458, 0.475, 0.499, 0.506,
         0.513, 0.503, 0.461, 0.442, 0.428, 0.411, 0.426, 0.471, 0.472, 0.493, 0.455, 0.448, 0.446, 0.441, 0.441,
         0.475, 0.455, 0.461, 0.463, 0.471, 0.503, 0.469, 0.503, 0.524, 0.602, 0.682, 0.703, 0.699, 0.709, 0.739,
         0.705, 0.711, 0.671, 0.720, 0.722, 0.756, 0.782, 0.779, 0.782, 0.820, 0.827, 0.844, 0.789, 0.816, 0.830,
         0.852, 0.867, 0.852, 0.881, 0.869, 0.865, 0.884, 0.891, 0.871, 0.844, 0.894, 0.907, 0.905, 0.902, 0.864,
         0.856, 0.816, 0.826, 0.837, 0.801, 0.809, 0.813, 0.750, 0.754, 0.745, 0.756, 0.767, 0.737, 0.728, 0.745,
         0.705, 0.694, 0.711, 0.750, 0.697, 0.705]


def plot_critics(fontsize=14):
    fig = plt.figure(figsize=(3573 / 300, 1786 / 300), dpi=300)
    ax = fig.add_subplot(111)

    ax.plot(llama_x, llama_y, '--', color='black', linewidth=2.2, label="Llama Original Loss", zorder=3)
    ax.plot(mistral_x, mistral_y, '-', color='#377eb8', linewidth=2, label="Mistral Critic Computed Reward")
    ax.plot(gpt2_x, gpt2_y, '-', color='#4daf4a', linewidth=2, label="Gpt2 Critic Computed Reward")
    ax.plot(phi_x, phi_y, '-', color='#ff7f00', linewidth=2, label="Phi Critic Computed Reward")

    ax.set_title("Comparison of Different Critics Evaluating Llama Generator\n(Smoothing: 200)", fontsize=16)
    ax.set_xlabel("Sample", fontsize=16)
    ax.set_ylabel("Normalized Reward\n" + r"ln$\,\pi$(ans | cot) - ln$\,\pi$(ans | cot')", fontsize=16)
    ax.tick_params(labelsize=fontsize)
    ax.legend(fontsize=12, loc='upper left')
    ax.grid(True, linestyle='--', alpha=0.7)

    fig.subplots_adjust(left=0.1027, right=0.9905, bottom=0.1114, top=0.8975)
    fig.savefig("out.png", dpi=300)


if __name__ == "__main__":
    plot_critics(fontsize=14)
